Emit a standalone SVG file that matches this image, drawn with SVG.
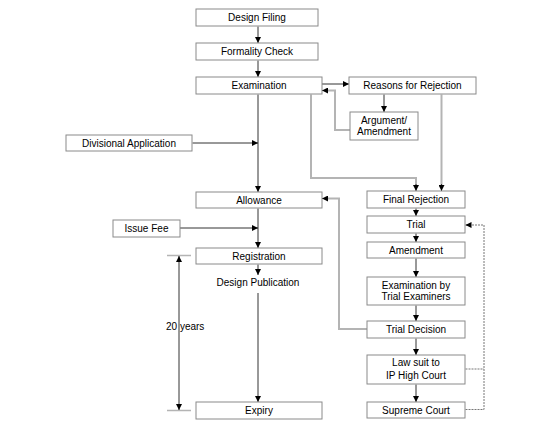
<svg xmlns="http://www.w3.org/2000/svg" width="550" height="430" viewBox="0 0 550 430">
<defs>
<marker id="ah" markerUnits="userSpaceOnUse" markerWidth="6" markerHeight="6" refX="6" refY="3" orient="auto-start-reverse"><path d="M0,0 L6,3 L0,6 z" fill="#000"/></marker>
<style>
rect{fill:#fff;stroke:#8a8a8a;stroke-width:1}
text{font-family:"Liberation Sans",Arial,sans-serif;font-size:10px;fill:#000;text-anchor:middle}
.b{fill:none;stroke:#333;stroke-width:1}
.g{fill:none;stroke:#b4b4b4;stroke-width:2}
.d{fill:none;stroke:#777;stroke-width:1;stroke-dasharray:2,1}
.a{marker-end:url(#ah)}
</style>
</defs>
<rect x="0" y="0" width="550" height="430" style="fill:#fff;stroke:none"/>
<g id="connectors">
<path class="b a" d="M258,26.5 V43"/>
<path class="b a" d="M258,60.5 V77"/>
<path class="b a" d="M322,84 H349"/>
<path class="b a" d="M384,94.5 V112"/>
<path class="g" d="M350,130 H335 V90.5 H328"/>
<path class="b a" d="M328,90.5 H322"/>
<path class="b a" d="M258,94.5 V192"/>
<path class="b a" d="M192.5,143 H258"/>
<path class="g" d="M311,94.5 V178 H416 V185"/>
<path class="b a" d="M416,184 V191"/>
<path class="g" d="M441.5,94.5 V185"/>
<path class="b a" d="M441.5,184 V191"/>
<path class="b a" d="M258,208.5 V248"/>
<path class="b a" d="M180,228 H258"/>
<path class="b a" d="M258,264.5 V275"/>
<path class="b a" d="M258,293 V402"/>
<path class="g" d="M167,255.5 H191 M167,410.5 H191" style="stroke-width:1.5"/>
<path class="b" d="M179,256 V410" style="marker-start:url(#ah);marker-end:url(#ah)"/>
<path class="b a" d="M416,208.5 V216"/>
<path class="b a" d="M416,233.5 V242"/>
<path class="b a" d="M416,258.5 V277"/>
<path class="b a" d="M416,305.5 V321"/>
<path class="b a" d="M416,338.5 V355"/>
<path class="b a" d="M416,384.5 V402"/>
<path class="g" d="M367,329 H339 V198.5 H328"/>
<path class="b a" d="M328,198.5 H322"/>
<path class="d" d="M465.5,369 H484 M465.5,409.5 H484 V225 H471"/>
<path class="b a" d="M471,225 H465.5"/>
</g>
<g id="design-filing"><rect x="196" y="9" width="122" height="17"/><text x="257" y="21">Design Filing</text></g>
<g id="formality-check"><rect x="196" y="43" width="122" height="17"/><text x="257" y="55">Formality Check</text></g>
<g id="examination"><rect x="196" y="77" width="126" height="17"/><text x="259" y="89">Examination</text></g>
<g id="reasons-for-rejection"><rect x="349" y="77" width="127" height="17"/><text x="412.5" y="89">Reasons for Rejection</text></g>
<g id="argument-amendment"><rect x="350" y="112" width="68" height="28"/><text x="384" y="123.5">Argument/</text><text x="384" y="134.5">Amendment</text></g>
<g id="divisional-application"><rect x="66" y="135" width="126" height="16"/><text x="129" y="146.5">Divisional Application</text></g>
<g id="allowance"><rect x="196" y="192" width="126" height="16"/><text x="259" y="203.5">Allowance</text></g>
<g id="issue-fee"><rect x="113" y="220" width="67" height="17"/><text x="146.5" y="232">Issue Fee</text></g>
<g id="registration"><rect x="196" y="248" width="126" height="16"/><text x="259" y="259.5">Registration</text></g>
<g id="design-publication"><text x="258" y="286">Design Publication</text></g>
<g id="expiry"><rect x="196" y="402" width="126" height="17"/><text x="259" y="414">Expiry</text></g>
<g id="twenty-years"><text x="166" y="330" style="text-anchor:start">20 years</text></g>
<g id="final-rejection"><rect x="367" y="191" width="98" height="17"/><text x="416" y="203">Final Rejection</text></g>
<g id="trial"><rect x="367" y="216" width="98" height="17"/><text x="416" y="228">Trial</text></g>
<g id="amendment"><rect x="367" y="242" width="98" height="16"/><text x="416" y="253.5">Amendment</text></g>
<g id="examination-by-trial-examiners"><rect x="367" y="277" width="98" height="28"/><text x="416" y="288.5">Examination by</text><text x="416" y="299.5">Trial Examiners</text></g>
<g id="trial-decision"><rect x="367" y="321" width="98" height="17"/><text x="416" y="333">Trial Decision</text></g>
<g id="law-suit"><rect x="367" y="355" width="98" height="29"/><text x="416" y="366">Law suit to</text><text x="416" y="378.5">IP High Court</text></g>
<g id="supreme-court"><rect x="367" y="402" width="98" height="16"/><text x="416" y="413.5">Supreme Court</text></g>
</svg>
